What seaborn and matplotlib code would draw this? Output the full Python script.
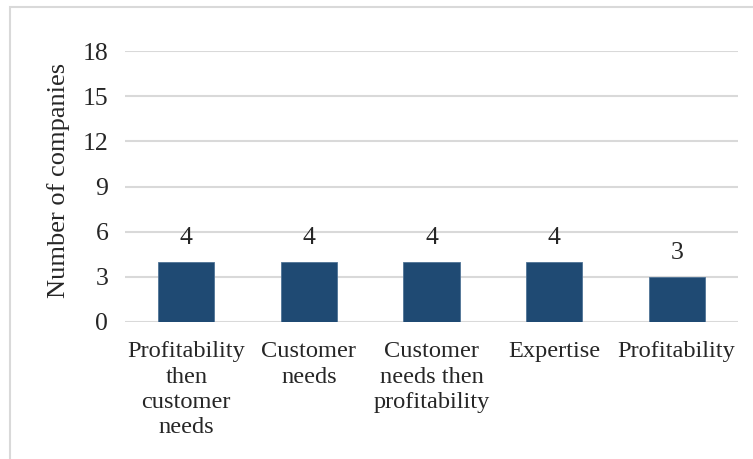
import matplotlib
matplotlib.use("Agg")
import matplotlib.pyplot as plt
import seaborn as sns
import pandas as pd
from matplotlib.patches import Rectangle

categories = [
    "Profitability\nthen\ncustomer\nneeds",
    "Customer\nneeds",
    "Customer\nneeds then\nprofitability",
    "Expertise",
    "Profitability",
]
companies = [4, 4, 4, 4, 3]
y_ticks = [0, 3, 6, 9, 12, 15, 18]

sns.set_style("white")
plt.rcParams["font.family"] = ["Liberation Serif", "DejaVu Serif"]

df = pd.DataFrame({"category": categories, "companies": companies})

fig = plt.figure(figsize=(7.53, 4.59), dpi=100)
W, H = 753, 459
ax = fig.add_axes([125 / W, 1 - 322 / H, (738 - 125) / W, (322 - 51) / H])

# outer chart frame
fig.patches.append(Rectangle((10 / W, -0.05), 1.05, 1 - 7 / H + 0.05,
                             transform=fig.transFigure, fill=False,
                             edgecolor="#d9d9d9", linewidth=1.5, zorder=0))

sns.barplot(data=df, x="category", y="companies", color="#1F4A73",
            saturation=1, width=0.46, edgecolor="#4F7396", linewidth=0.6,
            ax=ax, zorder=3)

ax.set_ylim(0, 18)
ax.set_yticks(y_ticks)
ax.set_xlim(-0.5, len(categories) - 0.5)
ax.yaxis.grid(True, color="#d9d9d9", linewidth=1.5, zorder=0)
ax.set_axisbelow(True)
for s in ax.spines.values():
    s.set_visible(False)

ax.tick_params(axis="y", length=0, pad=12, labelsize=18.5)
ax.tick_params(axis="x", length=0, pad=14, labelsize=17.6)
for lbl in ax.get_xticklabels():
    lbl.set_linespacing(1.27)

ax.set_xlabel("")
ax.set_ylabel("Number of companies", fontsize=19)
ax.yaxis.set_label_coords(-0.09, 0.524)

ax.bar_label(ax.containers[0], labels=[str(v) for v in companies],
             padding=9, fontsize=18.5)

fig.savefig("out.png", dpi=100)
